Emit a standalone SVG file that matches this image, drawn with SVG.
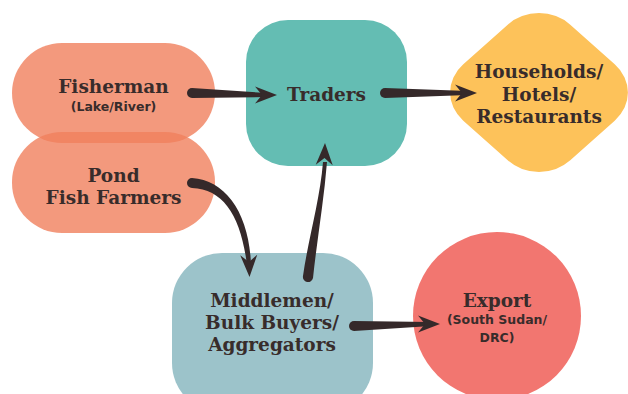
<svg xmlns="http://www.w3.org/2000/svg" xmlns:xlink="http://www.w3.org/1999/xlink" width="628" height="394" viewBox="0 0 628 394">
  <style>
    .title { font-family: "DejaVu Serif", "Liberation Serif", serif; font-weight: bold; font-size: 18.5px; fill: #382C2B; text-anchor: middle; }
    .sub { font-family: "DejaVu Sans", "Liberation Sans", sans-serif; font-weight: bold; font-size: 12.5px; fill: #382C2B; text-anchor: middle; }
    .pill { fill: #F0805C; fill-opacity: 0.8; }
    .link { fill: #35292A; }
  </style>
  <defs>
    <!-- arrowhead pointing along +x, tip at origin -->
    <path id="head" d="M0,0 L-22,-8.5 L-15,0 L-22,8.5 Z" fill="#35292A"/>
  </defs>

  <rect width="628" height="394" fill="#FFFFFF"/>

  <g id="fisherman">
    <rect class="pill" x="12" y="43" width="203" height="100" rx="50"/>
    <text class="title" x="113.5" y="93">Fisherman</text>
    <text class="sub" x="113.5" y="111">(Lake/River)</text>
  </g>

  <g id="pond-fish-farmers">
    <rect class="pill" x="12" y="132" width="203" height="101" rx="50"/>
    <text class="title" x="113.5" y="182">Pond</text>
    <text class="title" x="113.5" y="204">Fish Farmers</text>
  </g>

  <g id="traders">
    <rect x="246" y="20" width="161" height="146" rx="42" fill="#64BDB3"/>
    <text class="title" x="326.5" y="101">Traders</text>
  </g>

  <g id="households">
    <rect x="-60" y="-60" width="120" height="120" rx="35" fill="#FDC25A"
          transform="translate(539,92.5) scale(1.264,1.129) rotate(45)"/>
    <text class="title" x="539" y="78">Households/</text>
    <text class="title" x="539" y="101">Hotels/</text>
    <text class="title" x="539" y="123">Restaurants</text>
  </g>

  <g id="middlemen">
    <rect x="172" y="253" width="201" height="160" rx="50" fill="#9CC3CA"/>
    <text class="title" x="272" y="307">Middlemen/</text>
    <text class="title" x="272" y="329">Bulk Buyers/</text>
    <text class="title" x="272" y="351">Aggregators</text>
  </g>

  <g id="export">
    <circle cx="497" cy="316" r="84" fill="#F27670"/>
    <text class="title" x="497" y="307">Export</text>
    <text class="sub" x="497" y="324">(South Sudan/</text>
    <text class="sub" x="497" y="342">DRC)</text>
  </g>

  <g id="connectors">
    <!-- Fisherman to Traders -->
    <path class="link" d="M192,88 L267,93 L267,97 L192,98 A5,5 0 0 1 192,88 Z"/>
    <use xlink:href="#head" transform="translate(277,95)"/>
    <!-- Traders to Households -->
    <path class="link" d="M385,88 L468,91 L468,95 L385,98 A5,5 0 0 1 385,88 Z"/>
    <use xlink:href="#head" transform="translate(477,93)"/>
    <!-- Pond Fish Farmers to Middlemen -->
    <path class="link" d="M192,178 C226,180 249.5,214 251,265 L247,265 C241,217 224,189 192,188 A5,5 0 0 1 192,178 Z"/>
    <use xlink:href="#head" transform="translate(249.5,277) rotate(88)"/>
    <!-- Middlemen to Traders -->
    <path class="link" d="M313,278 C317,240 324,200 327,162 L323,162 C320,200 308,240 303,276 A5,5 0 0 0 313,278 Z"/>
    <use xlink:href="#head" transform="translate(325,143) rotate(-88)"/>
    <!-- Middlemen to Export -->
    <path class="link" d="M354,321 L431,322 L431,326 L354,331 A5,5 0 0 1 354,321 Z"/>
    <use xlink:href="#head" transform="translate(440,324)"/>
  </g>
</svg>
